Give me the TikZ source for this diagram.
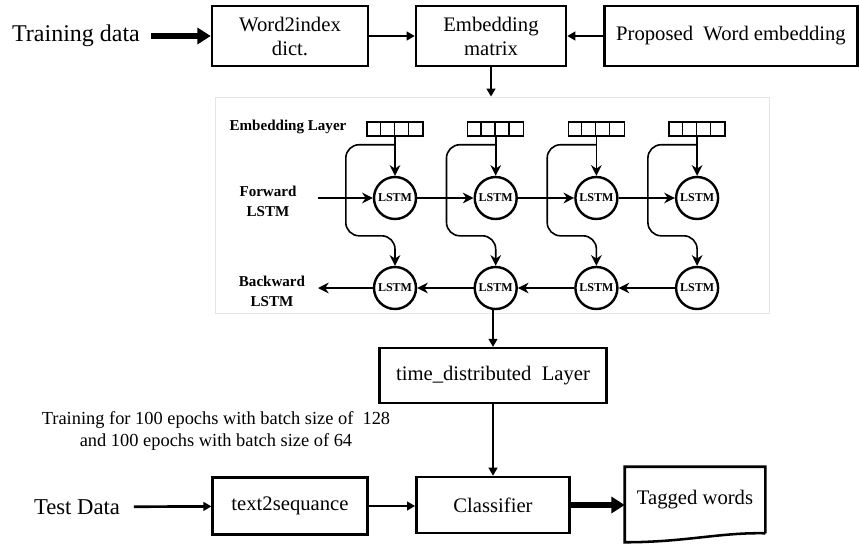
\documentclass[tikz,border=0pt]{standalone}
\usepackage{fontspec}
\setmainfont{Liberation Serif}
\usetikzlibrary{arrows.meta,calc,positioning}

\tikzset{
  blk/.style={draw, line width=1.9pt, minimum height=45pt, align=center, inner sep=2pt,
    font=\fontsize{15.5}{18}\selectfont},
  arr/.style={line width=1.5pt, -{Triangle[length=6pt,width=6.5pt]}},
  fatarr/.style={line width=4pt, -{Triangle[length=10pt,width=12pt]}},
  lstm/.style={circle, draw, line width=1.8pt, minimum size=31.5pt, inner sep=0pt,
    font=\bfseries\fontsize{9}{9}\selectfont},
  vec/.style={draw, line width=1.1pt, minimum width=42pt, minimum height=10.5pt, inner sep=0pt},
  link/.style={line width=1.2pt, -{Stealth[length=8pt,width=8pt]}},
  side/.style={font=\fontsize{18}{20}\selectfont},
  lbl/.style={font=\bfseries\fontsize{11.3}{15}\selectfont, align=center},
}

\begin{document}
\begin{tikzpicture}[x=0.75pt, y=-0.75pt]
    \useasboundingbox (0,0) rectangle (860,543);

    % top row
    \node[side] (train) at (76,36) {Training data};
    \node[blk, minimum width=117pt] (w2i) at (290,36) {Word2index\\dict.};
    \node[blk, minimum width=112.5pt] (emb) at (491,36) {Embedding\\matrix};
    \node[blk, minimum width=190pt] (prop) at (731,36) {Proposed\ \ Word embedding};

    \draw[fatarr, shorten <=5pt] (train) -- (w2i);
    \draw[arr] (w2i) -- (emb);
    \draw[arr] (prop) -- (emb);

    % bi-LSTM panel
    \node[draw=black!10, line width=0.6pt, minimum width=416pt, minimum height=162pt] (panel) at (492.5,205) {};
    \draw[arr] (emb) -- (emb.south |- panel.north);

    \node[lbl] (embl) at (288,127) {Embedding Layer};
    \node[lbl] (fwl) at (268,201) {Forward\\LSTM};
    \node[lbl] (bwl) at (272,291) {Backward\\LSTM};

    \foreach \i in {1,...,4} {
        \pgfmathsetmacro\cx{395+100.7*(\i-1)}
        \node[vec] (e\i) at (\cx,129) {};
        \foreach \k in {1,2,3}
            \draw[line width=1.1pt] ($(e\i.south west)+(14*\k,0)$) -- ($(e\i.north west)+(14*\k,0)$);
        \node[lstm] (f\i) at (\cx,198) {LSTM};
        \node[lstm] (b\i) at (\cx,288) {LSTM};
        \draw[link] (e\i) -- (f\i);
        \draw[link, rounded corners=10] ($(e\i.south)+(0,8)$) -| ($(f\i.west)+(-27,0)$)
            |- ($(b\i.north)+(0,-30)$) -- (b\i.north);
    }

    \coordinate (fin) at (318,198);
    \coordinate (bout) at (318,288);
    \draw[link] (fin) -- (f1);
    \foreach \a/\b in {1/2,2/3,3/4}
        \draw[link] (f\a) -- (f\b);
    \foreach \a/\b in {4/3,3/2,2/1}
        \draw[link] (b\a) -- (b\b);
    \draw[link] (b1) -- (bout);

    % lower part
    \node[blk, minimum width=170pt, minimum height=41pt] (time) at (493,375.5) {time\_distributed\ \ Layer};
    \node[blk, minimum width=115pt, minimum height=42pt] (cls) at (493,505) {Classifier};
    \node[blk, minimum width=116pt, minimum height=43pt] (t2s) at (290,506) {text2sequance};
    \node[side, font=\fontsize{17}{19}\selectfont] (test) at (77,507) {Test Data};
    \node[align=center, font=\fontsize{13.8}{16.5}\selectfont] (note) at (216,431)
        {Training\ for\ 100\ epochs\ with\ batch\ size\ of\ \ 128\\and\ 100\ epochs\ with\ batch\ size\ of\ 64};

    \draw[arr] (time.north |- b2.south) -- (time.north);
    \draw[arr] (time) -- (cls);
    \draw[arr, line width=2pt, shorten <=7pt] (test) -- (t2s);
    \draw[arr] (t2s.east) -- (t2s.east -| cls.west);

    % output document
    \node[minimum width=105pt, minimum height=49.5pt, inner sep=0pt, font=\fontsize{15.5}{18}\selectfont] (tag) at (695,500) {Tagged words};
    \draw[line width=1.9pt] (tag.south east) -- (tag.north east) -- (tag.north west) -- ($(tag.south west)+(0,9)$)
        .. controls ($(tag.south west)+(60,9)$) and ($(tag.south east)+(-45,-1)$) .. (tag.south east);
    \draw[fatarr] (cls.east) -- (cls.east -| tag.west);

\end{tikzpicture}
\end{document}
